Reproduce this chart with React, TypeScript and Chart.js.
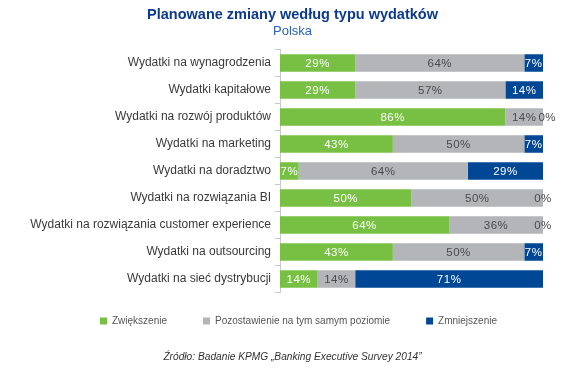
import React, { useEffect, useRef } from "react";
import { Chart, registerables } from "chart.js";

Chart.register(...registerables);

const categories = [
  "Wydatki na wynagrodzenia",
  "Wydatki kapitałowe",
  "Wydatki na rozwój produktów",
  "Wydatki na marketing",
  "Wydatki na doradztwo",
  "Wydatki na rozwiązania BI",
  "Wydatki na rozwiązania customer experience",
  "Wydatki na outsourcing",
  "Wydatki na sieć dystrybucji",
];

const seriesNames = [
  "Zwiększenie",
  "Pozostawienie na tym samym poziomie",
  "Zmniejszenie",
];

const increase = [28.6, 28.6, 85.7, 42.9, 7.1, 50, 64.3, 42.9, 14.3];
const same = [64.3, 57.1, 14.3, 50, 64.3, 50, 35.7, 50, 14.3];
const decrease = [7.1, 14.3, 0, 7.1, 28.6, 0, 0, 7.1, 71.4];

const seriesColors = ["#78c043", "#b3b5b9", "#004896"];
const labelColors = ["#ffffff", "#4a4a4a", "#ffffff"];

const FONT = '"Liberation Sans", Arial, Helvetica, sans-serif';

const valueLabels = {
  id: "valueLabels",
  afterDatasetsDraw(chart: any) {
    const ctx = chart.ctx;
    ctx.save();
    ctx.font = `11.5px ${FONT}`;
    try {
      (ctx as any).letterSpacing = "0.5px";
    } catch (e) {}
    ctx.textAlign = "center";
    ctx.textBaseline = "middle";
    const n = chart.data.labels.length;
    for (let i = 0; i < n; i++) {
      let prevRight = -Infinity;
      chart.data.datasets.forEach((ds: any, di: number) => {
        const meta = chart.getDatasetMeta(di);
        const bar = meta.data[i];
        if (!bar) return;
        const v = ds.data[i] as number;
        const p = bar.getProps(["x", "y", "base"], true);
        const text = Math.round(v) + "%";
        const w = ctx.measureText(text).width;
        let cx: number;
        if (v === 0) {
          cx = Math.max(p.x, prevRight + 2 + w / 2);
          ctx.fillStyle = "#4a4a4a";
        } else {
          cx = (p.x + p.base) / 2;
          ctx.fillStyle = labelColors[di];
        }
        ctx.fillText(text, cx, p.y + 0.5);
        prevRight = cx + w / 2;
      });
    }
    ctx.restore();
  },
};

const legendShift = {
  id: "legendShift",
  afterLayout(chart: any) {
    const lg = chart.legend;
    if (lg) {
      lg.top -= 12.5;
      lg.bottom -= 12.5;
    }
  },
};

export default function App() {
  const canvasRef = useRef<HTMLCanvasElement | null>(null);

  useEffect(() => {
    const canvas = canvasRef.current;
    if (!canvas) return;
    const datasets = [increase, same, decrease].map((d, i) => ({
      label: seriesNames[i],
      data: d,
      backgroundColor: seriesColors[i],
      borderWidth: 0,
      barPercentage: 0.65,
      categoryPercentage: 1.0,
    }));
    const chart = new Chart(canvas, {
      type: "bar",
      data: { labels: categories, datasets },
      options: {
        indexAxis: "y",
        responsive: false,
        animation: false,
        devicePixelRatio: 1,
        layout: { padding: { top: 49.5, left: 12, right: 0, bottom: 20.5 } },
        scales: {
          x: { stacked: true, min: 0, max: 100, display: false },
          y: {
            stacked: true,
            position: "left",
            grid: {
              display: true,
              drawOnChartArea: false,
              drawTicks: true,
              tickLength: 5,
              color: "#c9c9c9",
              offset: true,
            },
            border: { display: true, color: "#c9c9c9" },
            ticks: {
              color: "#3a3a3a",
              font: { size: 12, family: FONT },
              padding: 4,
            },
            afterFit: (s: any) => {
              s.width = 268;
            },
          },
          yr: {
            type: "category",
            position: "right",
            display: true,
            grid: { display: false },
            border: { display: false },
            ticks: { display: false },
            afterFit: (s: any) => {
              s.width = 42;
            },
          },
        } as any,
        plugins: {
          legend: {
            display: true,
            position: "bottom",
            labels: {
              boxWidth: 7,
              boxHeight: 7,
              padding: 36,
              color: "#555555",
              font: { size: 10, family: FONT },
            },
          },
          title: { display: false },
          tooltip: { enabled: false },
        },
      } as any,
      plugins: [valueLabels, legendShift],
    });
    return () => chart.destroy();
  }, []);

  return (
    <div
      style={{
        position: "absolute",
        left: 0,
        top: 0,
        width: 585,
        height: 369,
        background: "#ffffff",
        overflow: "hidden",
      }}
    >
      <canvas
        ref={canvasRef}
        width={585}
        height={369}
        style={{ position: "absolute", left: 0, top: 0, width: 585, height: 369 }}
      />
      <div
        style={{
          position: "absolute",
          left: 0,
          top: 6,
          width: 585,
          textAlign: "center",
          fontFamily: FONT,
          fontWeight: "bold",
          fontSize: "14.5px",
          lineHeight: "16px",
          color: "#0b3a8e",
          whiteSpace: "nowrap",
        }}
      >
        Planowane zmiany według typu wydatków
      </div>
      <div
        style={{
          position: "absolute",
          left: 0,
          top: 22.5,
          width: 585,
          textAlign: "center",
          fontFamily: FONT,
          fontSize: "13px",
          lineHeight: "15px",
          color: "#2b63b5",
          whiteSpace: "nowrap",
        }}
      >
        Polska
      </div>
      <div
        style={{
          position: "absolute",
          left: 0,
          top: 350.5,
          width: 585,
          textAlign: "center",
          fontFamily: FONT,
          fontStyle: "italic",
          fontSize: "10.2px",
          lineHeight: "12px",
          color: "#333333",
          whiteSpace: "nowrap",
        }}
      >
        Źródło: Badanie KPMG „Banking Executive Survey 2014”
      </div>
    </div>
  );
}
